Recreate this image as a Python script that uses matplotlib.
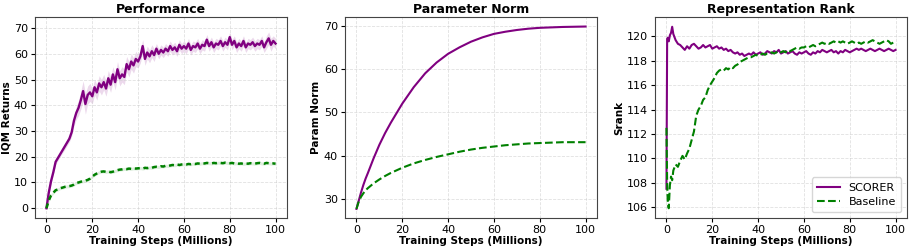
import numpy as np
import matplotlib
matplotlib.use("Agg")
import matplotlib.pyplot as plt

# ---- data ----
steps = np.arange(0, 101)

perf_scorer = [0, 6, 10.5, 14, 18, 19.5, 21, 22.5, 24, 25.5,
               27, 29.5, 34, 37, 39, 42, 45.5, 40.5, 44, 45,
               43.5, 47, 45, 48.5, 47, 49, 46.5, 50.5, 48, 52,
               49, 54, 50.5, 52, 51, 56, 54, 57, 55.5, 58,
               57, 59, 63, 58, 60.5, 59, 61, 59.5, 62, 60,
               61.5, 60.5, 62, 61, 63, 61.5, 62.5, 61, 63.5, 62,
               63, 62, 64, 61.5, 63, 62.5, 64, 62, 63.5, 63,
               65.5, 63, 64.5, 62.5, 64, 63.5, 65, 63, 64.5, 63.5,
               66.5, 63.5, 65, 62.5, 64, 63, 65, 62.5, 64, 63.5,
               64.5, 63, 64, 63.5, 65, 62.5, 64.5, 66, 63.5, 65, 64]
perf_scorer_err = [0.3, 0.8, 1, 1, 1, 1, 1, 1, 1.2, 1.2,
                   1.2, 1.5, 2, 2.5, 3, 3.5, 4, 4, 3.5, 3.5,
                   3, 3, 3, 3, 3, 3, 3, 3, 3, 3,
                   3, 3, 3, 3, 3, 3, 3, 3, 3, 3,
                   2.5, 2.5, 2.5, 2.5, 2.5, 2.5, 2.5, 2.5, 2, 2,
                   2, 2, 2, 2, 2, 2, 2, 2, 2, 2,
                   2, 2, 2, 2, 2, 2, 2, 2, 2, 2,
                   2, 2, 2, 2, 2, 2, 2, 2, 2, 2,
                   2, 2, 2, 2, 2, 2, 2, 2, 2, 2,
                   2, 2, 2, 2, 2, 2, 2.5, 2.5, 2.5, 2, 2]
perf_base = [0, 3, 5, 6, 7, 7.3, 7.8, 8, 8.3, 8.5,
             8.6, 8.8, 9.2, 9.8, 10, 10.3, 10.5, 10.7, 11, 11.5,
             12.3, 13, 13.5, 14, 14.2, 14.3, 14.1, 14.3, 14, 14.2,
             14.5, 14.8, 15, 15.1, 15.3, 15.2, 15.4, 15.3, 15.5, 15.4,
             15.5, 15.6, 15.4, 15.7, 15.6, 15.8, 15.7, 16, 16.1, 16,
             16.3, 16.2, 16.5, 16.4, 16.6, 16.8, 16.7, 17, 16.8, 17,
             17.1, 17, 17.2, 17.1, 17.3, 17.2, 17.4, 17.3, 17.5, 17.4,
             17.6, 17.5, 17.4, 17.6, 17.5, 17.7, 17.6, 17.5, 17.7, 17.6,
             17.5, 17.6, 17.4, 17.5, 17.3, 17.4, 17.2, 17.4, 17.3, 17.5,
             17.4, 17.3, 17.5, 17.6, 17.4, 17.3, 17.6, 17.5, 17.3, 17.4, 17.3]
perf_base_err = 0.6

norm_steps = [0, 1, 2, 3, 4, 5, 7.5, 10, 12.5, 15, 17.5, 20, 25, 30, 35, 40,
              45, 50, 55, 60, 65, 70, 75, 80, 85, 90, 95, 100]
norm_scorer = [27.7, 29.6, 31.5, 33.2, 34.7, 36.0, 39.4, 42.5, 45.2, 47.6,
               49.8, 52.0, 55.8, 59.0, 61.5, 63.5, 65.0, 66.3, 67.3, 68.1,
               68.6, 69.0, 69.3, 69.5, 69.6, 69.7, 69.75, 69.8]
norm_base = [27.7, 29.4, 30.5, 31.3, 32.0, 32.5, 33.6, 34.5, 35.3, 36.0,
             36.6, 37.2, 38.2, 39.0, 39.7, 40.3, 40.9, 41.4, 41.8, 42.1,
             42.4, 42.6, 42.8, 42.9, 43.0, 43.1, 43.1, 43.1]

rank_steps = np.concatenate([[0, 0.3, 0.6, 1, 1.5, 2, 2.5, 3], np.arange(4, 101)])
rank_scorer = [107.5, 119.8, 119.9, 119.6, 120.1, 120.3, 120.8, 120.2,
               119.7, 119.4, 119.3, 119.1, 118.9, 119.2, 119.0, 119.3, 119.4, 119.2,
               119.0, 119.1, 119.3, 119.1, 119.2, 119.3, 119.0, 119.1, 119.2, 119.0,
               119.1, 118.9, 119.0, 118.8, 118.9, 118.7, 118.6, 118.7, 118.5, 118.6,
               118.4, 118.5, 118.6, 118.5, 118.7, 118.5, 118.6, 118.7, 118.5, 118.6,
               118.8, 118.7, 118.6, 118.8, 118.7, 118.9, 118.6, 118.7, 118.8, 118.6,
               118.7, 118.8, 118.6, 118.5, 118.7, 118.6, 118.7, 118.8, 118.6, 118.5,
               118.7, 118.6, 118.8, 118.7, 118.9, 118.8, 118.7, 118.8, 118.9, 118.7,
               118.8, 118.6, 118.8, 118.7, 118.9, 118.8, 118.7, 118.8, 118.9, 119.0,
               118.9, 119.0, 118.9, 118.8, 118.9, 119.0, 118.9, 118.8, 118.9, 119.0,
               118.9, 118.8, 118.9, 119.0, 118.9, 118.8, 118.9]
rank_base = [112.5, 108.0, 106.3, 105.9, 107.8, 108.5, 108.2, 109.0,
             109.5, 109.3, 109.8, 110.2, 109.9, 110.4, 110.8, 111.5, 112.2, 113.5,
             114.0, 114.3, 114.8, 115.0, 115.6, 116.0, 116.3, 116.6, 117.0, 117.2,
             117.3, 117.2, 117.4, 117.3, 117.5, 117.4, 117.6, 117.7, 117.9, 118.0,
             118.1, 118.2, 118.3, 118.3, 118.4, 118.5, 118.4, 118.5, 118.6, 118.5,
             118.6, 118.6, 118.7, 118.6, 118.7, 118.8, 118.7, 118.8, 118.7, 118.9,
             118.8, 118.9, 119.0, 119.1, 119.0, 119.1, 119.1, 119.2, 119.1, 119.2,
             119.3, 119.2, 119.3, 119.4, 119.5, 119.4, 119.5, 119.4, 119.5, 119.6,
             119.5, 119.6, 119.5, 119.6, 119.5, 119.4, 119.5, 119.6, 119.5, 119.4,
             119.5, 119.4, 119.5, 119.6, 119.5, 119.6, 119.7, 119.6, 119.5, 119.4,
             119.5, 119.6, 119.7, 119.6, 119.4, 119.5, 119.4]

PURPLE = "#800080"
GREEN = "#008000"

fig = plt.figure(figsize=(9.13, 2.5), dpi=100)
W, H = 913.0, 250.0
lefts = [35, 345, 655]
axes = [fig.add_axes([l / W, 32 / H, 252 / W, 201 / H]) for l in lefts]


def style(ax, title, ylabel):
    ax.set_title(title, fontsize=9, fontweight="bold", pad=3)
    ax.set_ylabel(ylabel, fontsize=7.5, fontweight="bold", labelpad=2)
    ax.set_xlabel("Training Steps (Millions)", fontsize=7.5, fontweight="bold", labelpad=1)
    ax.tick_params(labelsize=8, length=3, pad=2)
    ax.grid(True, linestyle="--", color="#cccccc", alpha=0.6, linewidth=0.6)
    ax.set_xticks([0, 20, 40, 60, 80, 100])
    ax.set_xlim(-5, 105)
    for s in ax.spines.values():
        s.set_color("#444444")


# Performance
ax = axes[0]
ps = np.array(perf_scorer)
pe = np.array(perf_scorer_err)
pb = np.array(perf_base)
ax.fill_between(steps, ps - pe, ps + pe, color=PURPLE, alpha=0.15, linewidth=0)
ax.fill_between(steps, pb - perf_base_err, pb + perf_base_err, color=GREEN, alpha=0.12, linewidth=0)
ax.plot(steps, ps, color=PURPLE, linewidth=1.7)
ax.plot(steps, pb, color=GREEN, linewidth=1.8, linestyle=(0, (2, 1.5)))
ax.set_ylim(-3.8, 74.3)
ax.set_yticks(range(0, 71, 10))
style(ax, "Performance", "IQM Returns")

# Parameter norm
ax = axes[1]
ax.plot(norm_steps, norm_scorer, color=PURPLE, linewidth=1.5)
ax.plot(norm_steps, norm_base, color=GREEN, linewidth=1.5, linestyle="--")
ax.set_ylim(25.6, 72)
ax.set_yticks([30, 40, 50, 60, 70])
style(ax, "Parameter Norm", "Param Norm")

# Representation rank
ax = axes[2]
ax.plot(rank_steps, rank_scorer, color=PURPLE, linewidth=1.5, label="SCORER")
ax.plot(rank_steps, rank_base, color=GREEN, linewidth=1.5, linestyle="--", label="Baseline")
ax.set_ylim(105.1, 121.6)
ax.set_yticks(range(106, 121, 2))
style(ax, "Representation Rank", "Srank")
ax.legend(loc="lower right", fontsize=8, handlelength=2.0, borderpad=0.5, labelspacing=0.35)

fig.savefig("out.png", dpi=100)
